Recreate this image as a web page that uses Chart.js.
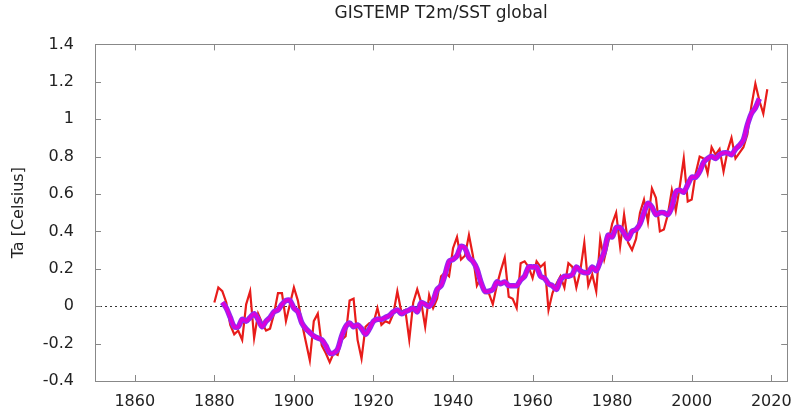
<!DOCTYPE html>
<html>
<head>
<meta charset="utf-8">
<script src="https://cdn.jsdelivr.net/npm/chart.js@4/dist/chart.umd.min.js"></script>
<style>
  html,body{margin:0;padding:0;background:#fff;}
  #wrap{width:803px;height:419px;}
</style>
</head>
<body>
<div id="wrap"><canvas id="gisChart" width="803" height="419"></canvas></div>
<script>
// annual global mean anomaly (red)
const annualYears = [
  1880,1881,1882,1883,1884,1885,1886,1887,1888,1889,
  1890,1891,1892,1893,1894,1895,1896,1897,1898,1899,
  1900,1901,1902,1903,1904,1905,1906,1907,1908,1909,
  1910,1911,1912,1913,1914,1915,1916,1917,1918,1919,
  1920,1921,1922,1923,1924,1925,1926,1927,1928,1929,
  1930,1931,1932,1933,1934,1935,1936,1937,1938,1939,
  1940,1941,1942,1943,1944,1945,1946,1947,1948,1949,
  1950,1951,1952,1953,1954,1955,1956,1957,1958,1959,
  1960,1961,1962,1963,1964,1965,1966,1967,1968,1969,
  1970,1971,1972,1973,1974,1975,1976,1977,1978,1979,
  1980,1981,1982,1983,1984,1985,1986,1987,1988,1989,
  1990,1991,1992,1993,1994,1995,1996,1997,1998,1999,
  2000,2001,2002,2003,2004,2005,2006,2007,2008,2009,
  2010,2011,2012,2013,2014,2015,2016,2017,2018,2019
];
const annualTa = [
  0.02,0.10,0.08,0.02,-0.10,-0.15,-0.13,-0.18,0.01,0.08,
  -0.17,-0.04,-0.09,-0.13,-0.12,-0.04,0.07,0.07,-0.08,0.01,
  0.10,0.03,-0.09,-0.19,-0.29,-0.08,-0.04,-0.21,-0.25,-0.30,
  -0.25,-0.26,-0.18,-0.16,0.03,0.04,-0.18,-0.28,-0.11,-0.09,
  -0.09,-0.01,-0.10,-0.08,-0.09,-0.04,0.08,-0.03,-0.02,-0.18,
  0.02,0.09,0.02,-0.11,0.06,-0.01,0.04,0.16,0.18,0.16,
  0.31,0.37,0.25,0.27,0.38,0.27,0.11,0.15,0.07,0.07,
  0.01,0.11,0.19,0.26,0.05,0.04,-0.01,0.23,0.24,0.21,
  0.15,0.24,0.21,0.23,-0.02,0.07,0.12,0.16,0.10,0.23,
  0.21,0.10,0.19,0.34,0.11,0.17,0.08,0.36,0.25,0.34,
  0.44,0.50,0.32,0.49,0.34,0.30,0.36,0.50,0.57,0.45,
  0.63,0.58,0.40,0.41,0.49,0.62,0.51,0.64,0.79,0.56,
  0.57,0.71,0.80,0.79,0.71,0.85,0.81,0.84,0.72,0.83,
  0.90,0.79,0.82,0.85,0.92,1.07,1.19,1.10,1.03,1.16
];

// smoothed curve (purple)
const smoothYears = [
  1882,1883,1884,1885,1886,1887,1888,1889,
  1890,1891,1892,1893,1894,1895,1896,1897,1898,1899,
  1900,1901,1902,1903,1904,1905,1906,1907,1908,1909,
  1910,1911,1912,1913,1914,1915,1916,1917,1918,1919,
  1920,1921,1922,1923,1924,1925,1926,1927,1928,1929,
  1930,1931,1932,1933,1934,1935,1936,1937,1938,1939,
  1940,1941,1942,1943,1944,1945,1946,1947,1948,1949,
  1950,1951,1952,1953,1954,1955,1956,1957,1958,1959,
  1960,1961,1962,1963,1964,1965,1966,1967,1968,1969,
  1970,1971,1972,1973,1974,1975,1976,1977,1978,1979,
  1980,1981,1982,1983,1984,1985,1986,1987,1988,1989,
  1990,1991,1992,1993,1994,1995,1996,1997,1998,1999,
  2000,2001,2002,2003,2004,2005,2006,2007,2008,2009,
  2010,2011,2012,2013,2014,2015,2016,2017
];
const smoothTa = [
  0.02,-0.01,-0.06,-0.11,-0.11,-0.07,-0.08,-0.06,
  -0.04,-0.07,-0.11,-0.08,-0.06,-0.03,-0.02,0.01,0.03,0.03,
  -0.01,-0.03,-0.09,-0.12,-0.14,-0.16,-0.17,-0.18,-0.21,-0.25,
  -0.25,-0.23,-0.16,-0.11,-0.09,-0.11,-0.10,-0.12,-0.15,-0.12,
  -0.08,-0.07,-0.07,-0.06,-0.05,-0.03,-0.02,-0.04,-0.03,-0.02,
  -0.01,-0.03,0.02,0.01,0.00,0.03,0.09,0.11,0.17,0.24,
  0.25,0.27,0.32,0.31,0.26,0.24,0.20,0.13,0.08,0.08,
  0.09,0.13,0.12,0.13,0.11,0.11,0.11,0.14,0.16,0.21,
  0.21,0.21,0.16,0.15,0.12,0.11,0.09,0.14,0.16,0.16,
  0.17,0.21,0.19,0.18,0.18,0.21,0.19,0.24,0.29,0.38,
  0.37,0.42,0.42,0.39,0.36,0.40,0.41,0.44,0.50,0.55,
  0.53,0.49,0.50,0.50,0.49,0.53,0.61,0.62,0.61,0.65,
  0.69,0.69,0.72,0.77,0.79,0.80,0.79,0.81,0.82,0.82,
  0.81,0.84,0.86,0.89,0.97,1.03,1.06,1.11
];

const xTickValues = [1860,1880,1900,1920,1940,1960,1980,2000,2020];
const yTickValues = [-0.4,-0.2,0,0.2,0.4,0.6,0.8,1,1.2,1.4];

const toPoints = (xs, ys) => xs.map((x, i) => ({x: x, y: ys[i]}));

// gnuplot-like frame with inward ticks on all four sides + dotted zero line
const framePlugin = {
  id: 'frame',
  beforeDatasetsDraw(chart){
    const {ctx, chartArea: a, scales} = chart;
    const y0 = scales.y.getPixelForValue(0);
    ctx.save();
    ctx.strokeStyle = '#333';
    ctx.lineWidth = 1;
    ctx.setLineDash([2, 3]);
    ctx.beginPath();
    ctx.moveTo(a.left, Math.round(y0) + 0.5);
    ctx.lineTo(a.right, Math.round(y0) + 0.5);
    ctx.stroke();
    ctx.restore();
  },
  afterDraw(chart){
    const {ctx, chartArea: a, scales} = chart;
    const len = 6;
    ctx.save();
    ctx.strokeStyle = '#888';
    ctx.lineWidth = 1;
    ctx.strokeRect(Math.round(a.left) + 0.5, Math.round(a.top) + 0.5,
                   Math.round(a.right - a.left), Math.round(a.bottom - a.top));
    ctx.beginPath();
    scales.x.ticks.forEach(t => {
      const px = Math.round(scales.x.getPixelForValue(t.value)) + 0.5;
      ctx.moveTo(px, a.bottom); ctx.lineTo(px, a.bottom - len);
      ctx.moveTo(px, a.top); ctx.lineTo(px, a.top + len);
    });
    scales.y.ticks.forEach(t => {
      const py = Math.round(scales.y.getPixelForValue(t.value)) + 0.5;
      ctx.moveTo(a.left, py); ctx.lineTo(a.left + len, py);
      ctx.moveTo(a.right, py); ctx.lineTo(a.right - len, py);
    });
    ctx.stroke();
    ctx.restore();
  }
};

function initChart(){
  const el = document.getElementById('gisChart');
  new Chart(el.getContext('2d'), {
    type: 'line',
    data: {
      datasets: [
        { label: 'annual', data: toPoints(annualYears, annualTa), borderColor: '#e81c1a', borderWidth: 2.2, pointRadius: 0, tension: 0, order: 3 },
        { label: 'smooth-edge', data: toPoints(smoothYears, smoothTa), borderColor: '#9228f0', borderWidth: 5.5, pointRadius: 0, tension: 0.3, order: 2 },
        { label: 'smooth', data: toPoints(smoothYears, smoothTa), borderColor: '#dc00dc', borderWidth: 3, pointRadius: 0, tension: 0.3, order: 1 }
      ]
    },
    options: {
      responsive: false,
      animation: false,
      layout: { padding: { left: 0, right: 6, top: 0, bottom: 0 } },
      plugins: {
        legend: { display: false },
        tooltip: { enabled: false },
        title: {
          display: true, fullSize: false,
          text: 'GISTEMP T2m/SST global',
          color: '#222',
          font: { family: 'DejaVu Sans', size: 17, weight: 'normal' },
          padding: { top: 3, bottom: 21 }
        }
      },
      scales: {
        x: {
          type: 'linear', min: 1850, max: 2024,
          grid: { display: false, drawTicks: false },
          border: { display: false },
          afterBuildTicks: s => { s.ticks = xTickValues.map(v => ({value: v})); },
          afterFit: s => { s.height = 38; },
          ticks: { color: '#222', padding: 11, maxRotation: 0, autoSkip: false,
                   font: { family: 'DejaVu Sans', size: 16 }, callback: v => String(v) }
        },
        y: {
          type: 'linear', min: -0.4, max: 1.4,
          grid: { display: false, drawTicks: false },
          border: { display: false },
          afterBuildTicks: s => { s.ticks = yTickValues.map(v => ({value: v})); },
          afterFit: s => { s.width = 95; },
          title: { display: true, text: 'Ta [Celsius]', color: '#222',
                   font: { family: 'DejaVu Sans', size: 16 }, padding: { top: 9, bottom: 0 } },
          ticks: { color: '#222', padding: 21, autoSkip: false,
                   font: { family: 'DejaVu Sans', size: 16 }, callback: v => String(+v.toFixed(1)) }
        }
      }
    },
    plugins: [framePlugin]
  });
}

document.addEventListener('DOMContentLoaded', initChart);
</script>
</body>
</html>
